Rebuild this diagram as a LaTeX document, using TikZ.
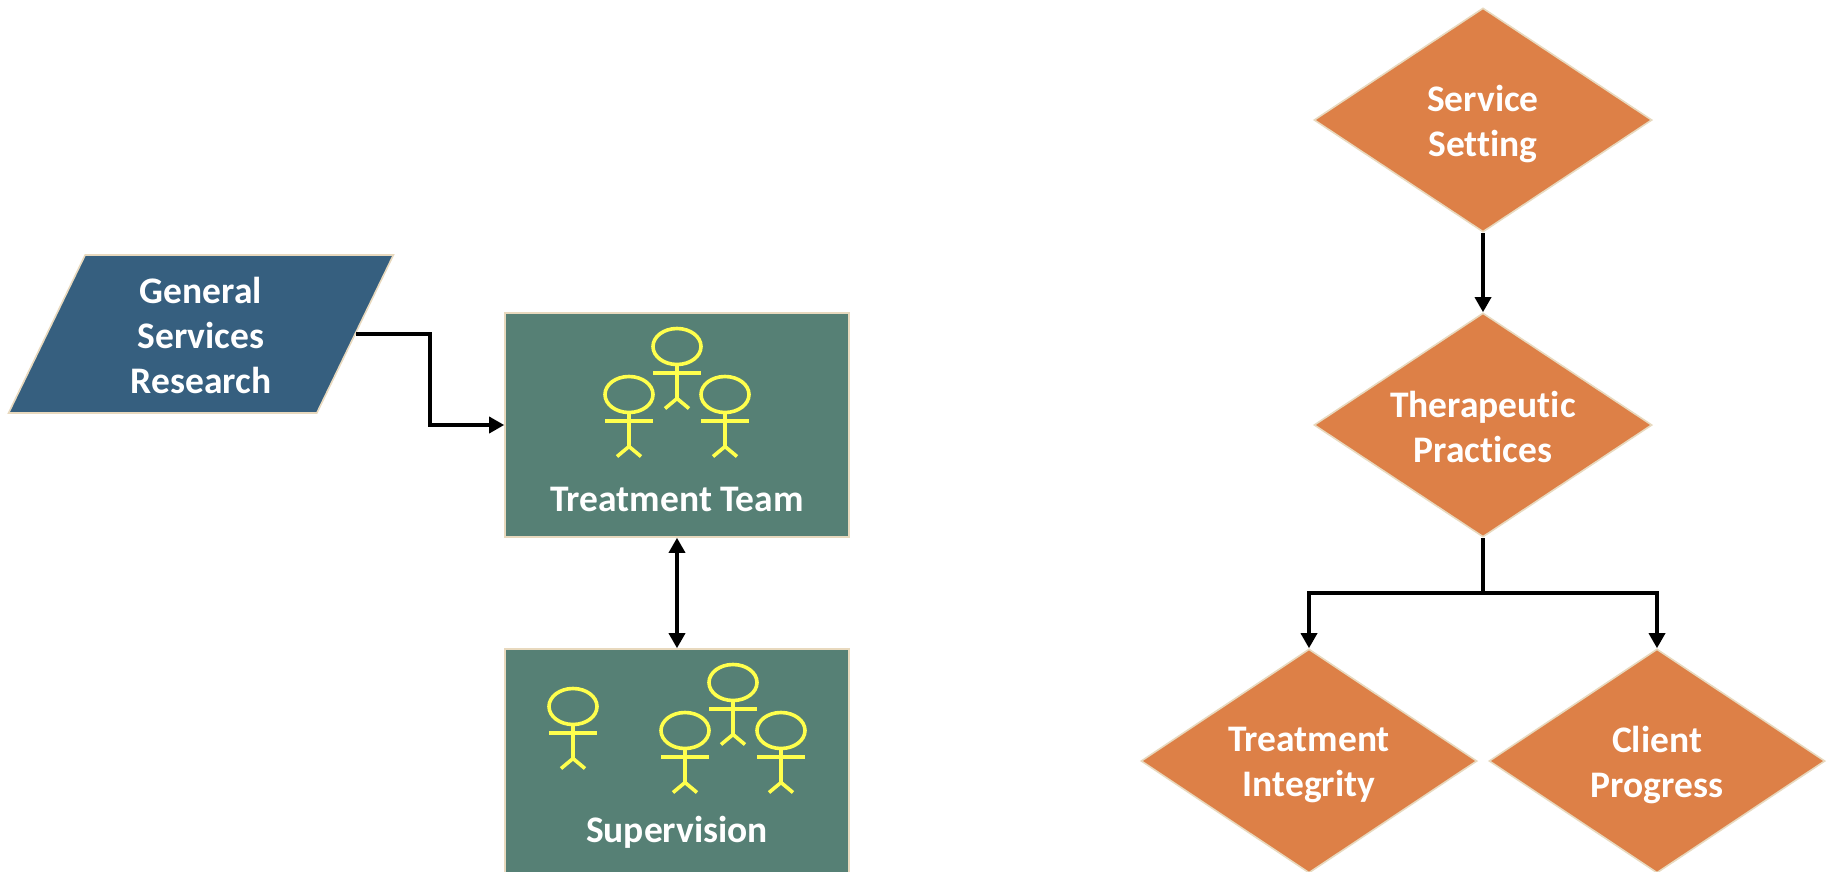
\documentclass[tikz,border=0pt]{standalone}
\usepackage{fontspec}
\setmainfont{Carlito}[RawFeature={-liga;-clig;-dlig}]
\usetikzlibrary{shapes.geometric,arrows.meta}
\definecolor{edgecream}{HTML}{E8D9BE}
\definecolor{paraBlue}{HTML}{365F7F}
\definecolor{teamGreen}{HTML}{568075}
\definecolor{diaOrange}{HTML}{DD8047}
\definecolor{figYellow}{HTML}{FFFF4D}
\tikzset{
  lbl/.style={text=white,font=\fontsize{37.5}{45}\selectfont\bfseries,align=center,inner sep=0pt},
  box/.style={rectangle,draw=edgecream,line width=1.6pt,fill=teamGreen,minimum width=344pt,minimum height=224pt,inner sep=0pt},
  dia/.style={diamond,aspect=1.5,draw=edgecream,line width=1.6pt,fill=diaOrange,minimum width=336pt,minimum height=224pt,inner sep=0pt},
  para/.style={trapezium,trapezium left angle=64.3,trapezium right angle=115.7,trapezium stretches=true,draw=edgecream,line width=1.6pt,fill=paraBlue,minimum width=386pt,minimum height=158pt,inner sep=0pt},
  conn/.style={draw=black,line width=3.4pt,-{Triangle[length=15pt,width=16pt]}},
  person/.pic={
    \begin{scope}[draw=figYellow,line width=3.6pt]
      \draw (0,0) ellipse [x radius=24pt,y radius=18pt];
      \draw (0,18) -- (0,52) (-24,26.5) -- (24,26.5);
      \draw (-12,62) -- (0,52) -- (12,62);
    \end{scope}
  }
}
\begin{document}
\begin{tikzpicture}[x=1pt,y=-1pt]
\useasboundingbox (0,0) rectangle (1829,871);
\clip (0,0) rectangle (1829,871);
\node[para] (gsr) at (201,334) {\phantom{\rule{230pt}{158pt}}};
\node[box] (team) at (677,425) {};
\node[box] (sup) at (677,761) {};
\node[dia,minimum width=338pt] (setting) at (1483,120) {};
\node[dia,minimum width=338pt] (practice) at (1483,425) {};
\node[dia] (integrity) at (1309,761) {};
\node[dia] (progress) at (1657,761) {};
\node[lbl] (gsrlabel) at (201,335) {General\\Services\\Research};
\node[lbl] (settinglabel) at (1483,124) {Service\\Setting};
\node[lbl] (practicelabel) at (1483,426.5) {Therapeutic\\Practices};
\node[lbl] (integritylabel) at (1309,765) {Treatment\\Integrity};
\node[lbl] (progresslabel) at (1657,765) {Client\\Progress};
\node[lbl] (teamlabel) at (677,499) {Treatment Team};
\node[lbl] (suplabel) at (677,832) {Supervision};
\pic at (677,346.5) {person};
\pic at (629,394.5) {person};
\pic at (725,394.5) {person};
\pic at (733,682.5) {person};
\pic at (685,730.5) {person};
\pic at (781,730.5) {person};
\pic at (573,706.5) {person};
\coordinate (bend) at (430,425);
\coordinate (fork) at (1483,593);
\draw[conn] (gsr.east) -| (bend) -- (team.west);
\draw[conn,{Triangle[length=15pt,width=16pt]}-{Triangle[length=15pt,width=16pt]}] (team.south) -- (sup.north);
\draw[conn] (setting.south) -- (practice.north);
\draw[conn,-] (practice.south) -- (fork);
\draw[conn] (fork) -| (integrity.north);
\draw[conn] (fork) -| (progress.north);
\end{tikzpicture}
\end{document}
